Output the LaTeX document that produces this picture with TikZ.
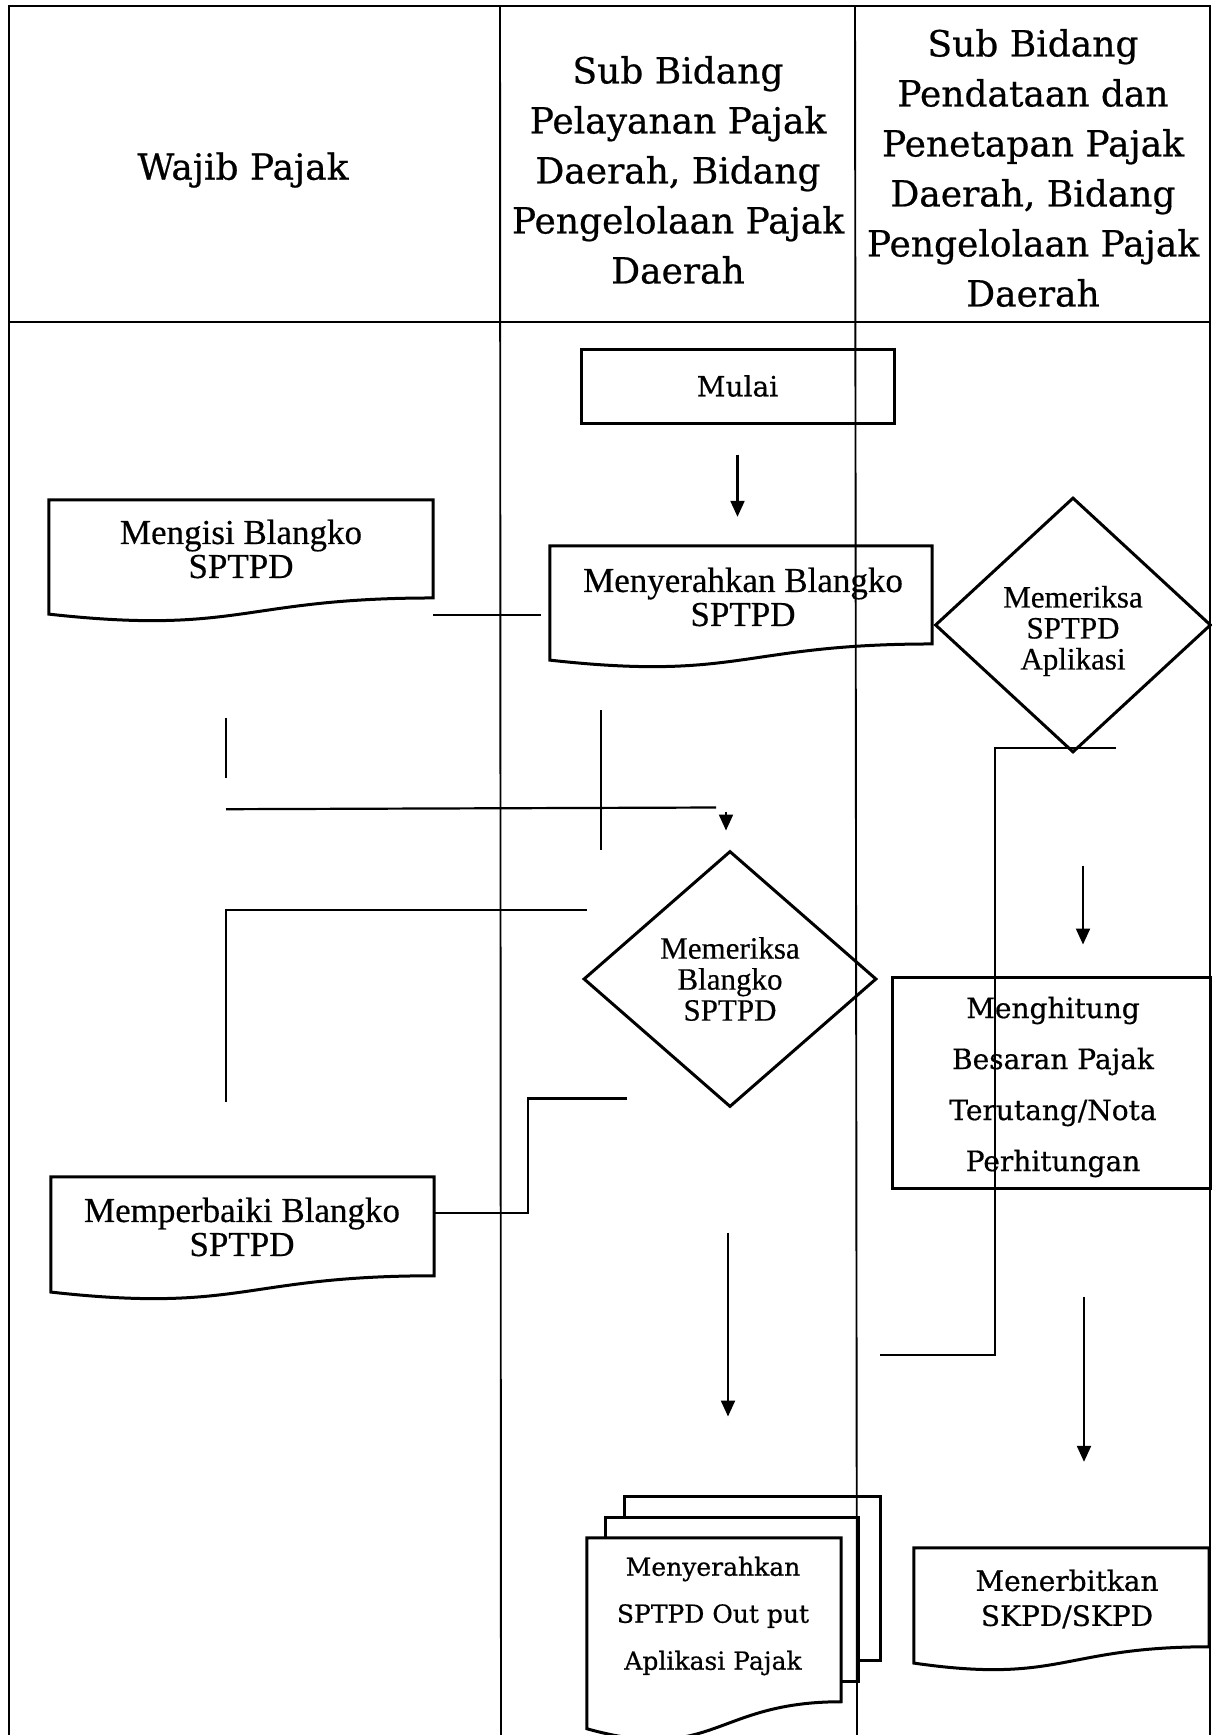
\documentclass[tikz,border=0pt]{standalone}
\usepackage{fontspec}
\setmainfont[FakeBold=0.4]{Liberation Serif}
\newfontfamily\bkfont[FakeBold=0.6]{DejaVu Serif}
\usetikzlibrary{arrows.meta,calc,shapes.geometric}
\newcommand\docoutline[1]{%
  \draw[shp] (#1.north west) -- (#1.north east) -- ($(#1.north east)!0.802!(#1.south east)$)
    .. controls ($(#1.north)!0.802!(#1.south)$) and ($(#1.north)!1.1075!(#1.south)$) ..
    ($(#1.north west)!0.934!(#1.south west)$) -- cycle;}
\begin{document}
\begin{tikzpicture}[x=1pt,y=-1pt,
  tbl/.style={line width=1.9pt},
  shp/.style={line width=3pt, line join=miter},
  ln/.style={line width=2.2pt},
  arr/.style={line width=2.2pt,-{Triangle[width=14pt,length=16pt]}},
  hdr/.style={font=\bkfont\fontsize{36}{50}\selectfont, align=center},
  bk/.style={font=\bkfont\fontsize{28}{51}\selectfont, align=center},
  tm/.style={font=\fontsize{35}{34}\selectfont, align=center},
  tms/.style={font=\fontsize{31}{31}\selectfont, align=center},
  boxnode/.style={shp, draw, rectangle, inner sep=0pt},
  dianode/.style={shp, draw, diamond, inner sep=0pt},
  docnode/.style={rectangle, inner sep=0pt, draw=none},
]
\useasboundingbox (0,0) rectangle (1211,1735);
\fill[white] (0,0) rectangle (1211,1735);
% table
\draw[tbl] (9,1735) -- (9,6) -- (1210,6) -- (1210,1735);
\draw[tbl] (9,322) -- (1210,322);
\draw[tbl] (500,6) -- (501,1735);
\draw[tbl] (855,6) -- (857,1735);
% headers
\node[hdr] (h1) at (243,170) {Wajib Pajak};
\node[hdr] (h2) at (678,170) {Sub Bidang\\Pelayanan Pajak\\Daerah, Bidang\\Pengelolaan Pajak\\Daerah};
\node[hdr] (h3) at (1033,168) {Sub Bidang\\Pendataan dan\\Penetapan Pajak\\Daerah, Bidang\\Pengelolaan Pajak\\Daerah};
% nodes
\node[boxnode, bk, minimum width=313pt, minimum height=74pt] (mulai) at (737.5,386) {Mulai};
\node[docnode, minimum width=384pt, minimum height=122pt] (mengisi) at (241,561) {};
\docoutline{mengisi}
\node[tm] (mengisiT) at (241,549) {Mengisi Blangko\\SPTPD};
\node[docnode, minimum width=382pt, minimum height=122pt] (menyer) at (741,607) {};
\docoutline{menyer}
\node[tm] (menyerT) at (743,597) {Menyerahkan Blangko\\SPTPD};
\node[docnode, minimum width=383pt, minimum height=123pt] (memper) at (242.5,1238.5) {};
\docoutline{memper}
\node[tm] (memperT) at (242,1227) {Memperbaiki Blangko\\SPTPD};
\node[dianode, minimum width=276pt, minimum height=255pt] (dia1) at (1073,625) {};
\node[tms] (dia1T) at (1073,631) {Memeriksa\\SPTPD\\Aplikasi};
\node[dianode, tms, minimum width=293pt, minimum height=256pt] (dia2) at (730,979) {Memeriksa\\Blangko\\SPTPD};
\node[boxnode, minimum width=319pt, minimum height=211pt] (menghit) at (1051.5,1082.5) {};
\node[bk] (menghitT) at (1053,1087) {Menghitung\\Besaran Pajak\\Terutang/Nota\\Perhitungan};
\node[docnode, minimum width=295pt, minimum height=123pt] (menerbit) at (1061.5,1609.5) {};
\docoutline{menerbit}
\node[bk, font=\bkfont\fontsize{28}{35}\selectfont] (menerbitT) at (1067,1599) {Menerbitkan\\SKPD/SKPD};
\node[docnode, minimum width=254pt, minimum height=204pt] (front) at (714,1640) {};
\draw[shp] ($(front.north west)+(38,-20)$) -- ++(0,-21) -- ($(front.north east)+(39,-41)$) -- ($(front.north east)+(39,123)$) -- ++(-22,0);
\draw[shp] ($(front.north west)+(19,0)$) -- ++(0,-20) -- ($(front.north east)+(17,-20)$) -- ($(front.north east)+(17,144)$) -- ++(-17,0);
\docoutline{front}
\node[bk, font=\bkfont\fontsize{25}{47}\selectfont] (frontT) at (713,1616) {Menyerahkan\\SPTPD Out put\\Aplikasi Pajak};
% connectors
\draw[arr] ($(mulai.south)+(0,30)$) -- ($(mulai.south |- menyer.north)+(0,-29)$);
\draw[ln] ($(mengisi.south east)+(0,-7)$) -- ($(menyer.south west)+(-9,-53)$);
\draw[ln] ($(mengisi.south)+(-15,96)$) -- ($(mengisi.south)+(-15,156)$);
\draw[ln] ($(mengisi.south)+(-15,187)$) -- ($(dia2.north)+(-14,-42)$);
\draw[arr] ($(dia2.north)+(-4,-38)$) -- ($(dia2.north)+(-4,-19)$);
\draw[ln] ($(menyer.south west)+(51,42)$) -- ($(menyer.south west)+(51,182)$);
\draw[ln] ($(dia2.west)+(5,-69)$) -| ($(memper.north)+(-16.5,-75)$);
\draw[ln] ($(dia2.south)+(-103,-10)$) -| ($(memper.east)+(94,-25.5)$) -- ($(memper.east)+(0,-25.5)$);
\draw[arr] ($(dia2.south)+(-2,124)$) -- ($(dia2.south)+(-2,308)$);
\draw[ln] ($(dia1.south)+(43,-6)$) -- ($(dia1.south)+(-78,-6)$) -- ($(dia1.south)+(-78,601)$) -- ($(dia1.south)+(-193,601)$);
\draw[arr] ($(menghit.north)+(31.5,-110)$) -- ($(menghit.north)+(31.5,-31)$);
\draw[arr] ($(menghit.south)+(32.5,107)$) -- ($(menerbit.north)+(22.5,-86)$);
\end{tikzpicture}
\end{document}
